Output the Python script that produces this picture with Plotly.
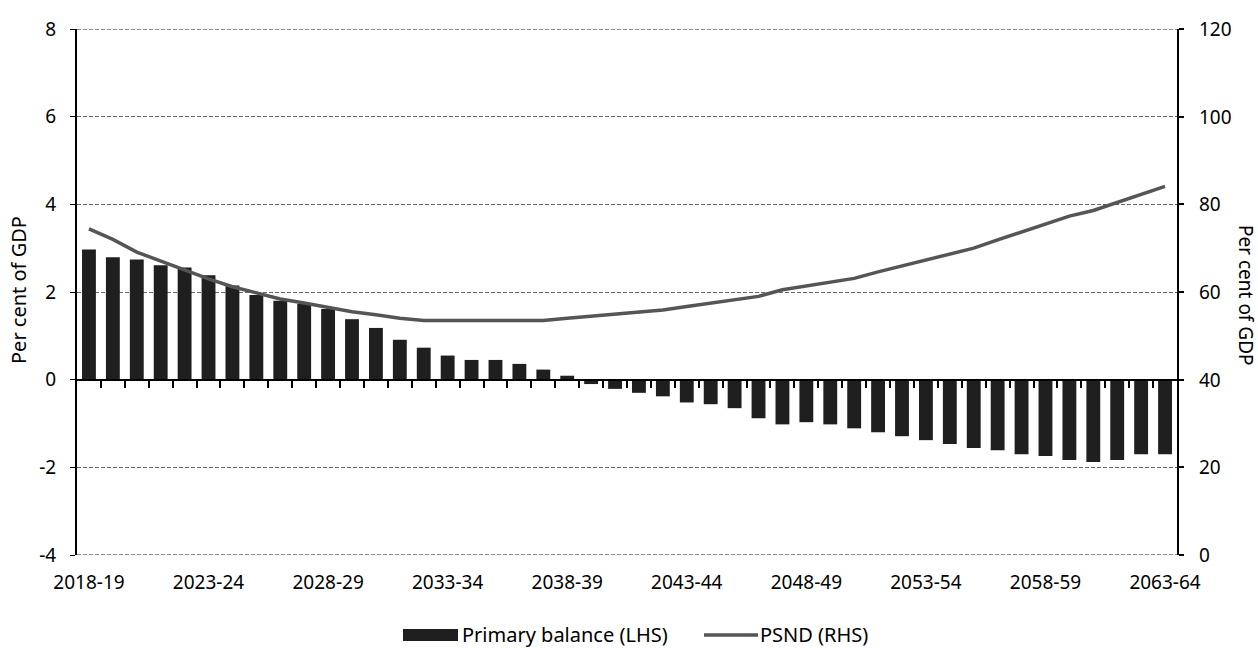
import plotly.graph_objects as go

# ---- data ----
years = [f"{y}-{str(y + 1)[-2:]}" for y in range(2018, 2064)]
primary_balance = [2.97, 2.79, 2.74, 2.61, 2.56, 2.38, 2.15, 1.93, 1.80, 1.73,
                   1.61, 1.38, 1.18, 0.91, 0.73, 0.55, 0.45, 0.45, 0.36, 0.23,
                   0.09, -0.10, -0.21, -0.30, -0.38, -0.52, -0.56, -0.65, -0.88, -1.02,
                   -0.97, -1.02, -1.11, -1.20, -1.29, -1.38, -1.47, -1.56, -1.61, -1.70,
                   -1.74, -1.83, -1.88, -1.83, -1.70, -1.70]
psnd = [74.4, 72.0, 69.1, 67.0, 65.0, 63.0, 61.2, 59.8, 58.4, 57.5,
        56.4, 55.5, 54.8, 54.0, 53.5, 53.5, 53.5, 53.5, 53.5, 53.5,
        54.0, 54.5, 55.0, 55.4, 55.9, 56.7, 57.5, 58.3, 59.0, 60.5,
        61.3, 62.2, 63.1, 64.6, 66.0, 67.2, 68.6, 70.0, 71.9, 73.7,
        75.6, 77.3, 78.6, 80.4, 82.3, 84.1]
left_ticks = [-4, -2, 0, 2, 4, 6, 8]
left_labels = ["-4", "-2", "0", "2", "4", "6", "8"]
right_ticks = [0, 20, 40, 60, 80, 100, 120]
right_labels = ["0", "20", "40", "60", "80", "100", "120"]

FONT = "Noto Sans"
BAR_COLOR = "#1f1f1f"
LINE_COLOR = "#555555"
GRID_COLOR = "#666666"
GRID_DASH = "4px,2px"

idx = list(range(len(years)))
label_idx = idx[::5]

fig = go.Figure()
fig.add_trace(go.Bar(x=idx, y=primary_balance, name="Primary balance (LHS)",
                     marker=dict(color=BAR_COLOR, line=dict(width=0)),
                     width=0.58, showlegend=False))
fig.add_trace(go.Scatter(x=idx, y=psnd, name="PSND (RHS)", mode="lines",
                         line=dict(color=LINE_COLOR, width=3.5),
                         yaxis="y2", showlegend=False))
# invisible helper trace carrying the zero-line axis with boundary ticks
fig.add_trace(go.Scatter(x=[idx[0]], y=[0], xaxis="x2", yaxis="y", mode="markers",
                         marker=dict(opacity=0), hoverinfo="skip", showlegend=False))

L, R, T, B = 77, 81, 29, 93
W, H = 1258, 648
pw, ph = W - L - R, H - T - B


def px(x):
    return (x - L) / pw


def py(y):
    return (H - B - y) / ph


shapes = [
    dict(type="rect", xref="paper", yref="paper",
         x0=px(403), x1=px(458), y0=py(641), y1=py(629),
         fillcolor=BAR_COLOR, line=dict(width=0)),
    dict(type="line", xref="paper", yref="paper",
         x0=px(704), x1=px(758), y0=py(635), y1=py(635),
         line=dict(color=LINE_COLOR, width=3.5)),
]
# gridlines at the range edges (plotly omits them)
for v in (left_ticks[0], left_ticks[-1]):
    shapes.append(dict(type="line", xref="paper", yref="y", x0=0, x1=1, y0=v, y1=v,
                       layer="below", line=dict(color=GRID_COLOR, width=1.3, dash=GRID_DASH)))

annotations = [
    dict(text="Per cent of GDP", x=px(18), y=py(290), xref="paper", yref="paper",
         showarrow=False, textangle=-90, font=dict(size=20, family=FONT),
         xanchor="center", yanchor="middle"),
    dict(text="Per cent of GDP", x=px(1246), y=py(295), xref="paper", yref="paper",
         showarrow=False, textangle=90, font=dict(size=19, family=FONT),
         xanchor="center", yanchor="middle"),
    dict(text="Primary balance (LHS)", x=px(460), y=py(634), xref="paper", yref="paper",
         showarrow=False, font=dict(size=20, family=FONT),
         xanchor="left", yanchor="middle"),
    dict(text="PSND (RHS)", x=px(758), y=py(634), xref="paper", yref="paper",
         showarrow=False, font=dict(size=20, family=FONT),
         xanchor="left", yanchor="middle"),
]
# right-hand tick labels placed on the y2 scale
for v, t in zip(right_ticks, right_labels):
    annotations.append(dict(text=t, x=px(1197), y=v, xref="paper", yref="y2",
                            showarrow=False, font=dict(size=19, family=FONT),
                            xanchor="left", yanchor="middle"))

fig.update_layout(
    width=W, height=H,
    margin=dict(l=L, r=R, t=T, b=B),
    paper_bgcolor="white", plot_bgcolor="white",
    font=dict(family=FONT, size=19, color="#000000"),
    bargap=0.42,
    xaxis=dict(range=[-0.5, len(years) - 0.5], tickmode="array",
               tickvals=label_idx, ticktext=[years[i] for i in label_idx],
               showgrid=False, zeroline=False, showline=False,
               ticks="outside", ticklen=10, tickcolor="rgba(0,0,0,0)",
               tickfont=dict(size=19, family=FONT)),
    xaxis2=dict(range=[-0.5, len(years) - 0.5], overlaying="x", anchor="free",
                position=(0 - left_ticks[0]) / (left_ticks[-1] - left_ticks[0]),
                showline=True, linecolor="#000000", linewidth=2,
                ticks="outside", ticklen=7, tickwidth=1.5, tickcolor="#000000",
                tickmode="array", tickvals=[i + 0.5 for i in idx[:-1]],
                showticklabels=False, showgrid=False, zeroline=False),
    yaxis=dict(range=[left_ticks[0], left_ticks[-1]], tickmode="array",
               tickvals=left_ticks, ticktext=left_labels,
               showgrid=True, gridcolor=GRID_COLOR, gridwidth=1.3, griddash=GRID_DASH,
               zeroline=False, showline=True, linecolor="#000000", linewidth=2,
               ticks="outside", ticklen=5, tickcolor="#000000",
               ticklabelstandoff=10,
               tickfont=dict(size=19, family=FONT)),
    yaxis2=dict(range=[right_ticks[0], right_ticks[-1]], tickmode="array",
                tickvals=right_ticks, showticklabels=False,
                overlaying="y", side="right", showgrid=False, zeroline=False,
                showline=True, linecolor="#000000", linewidth=2,
                ticks="outside", ticklen=5, tickwidth=1.5, tickcolor="#000000"),
    annotations=annotations,
    shapes=shapes,
)

fig.write_html("out.html", config={"displayModeBar": False},
               post_script="document.body.style.margin='0';document.body.style.overflow='hidden';")
